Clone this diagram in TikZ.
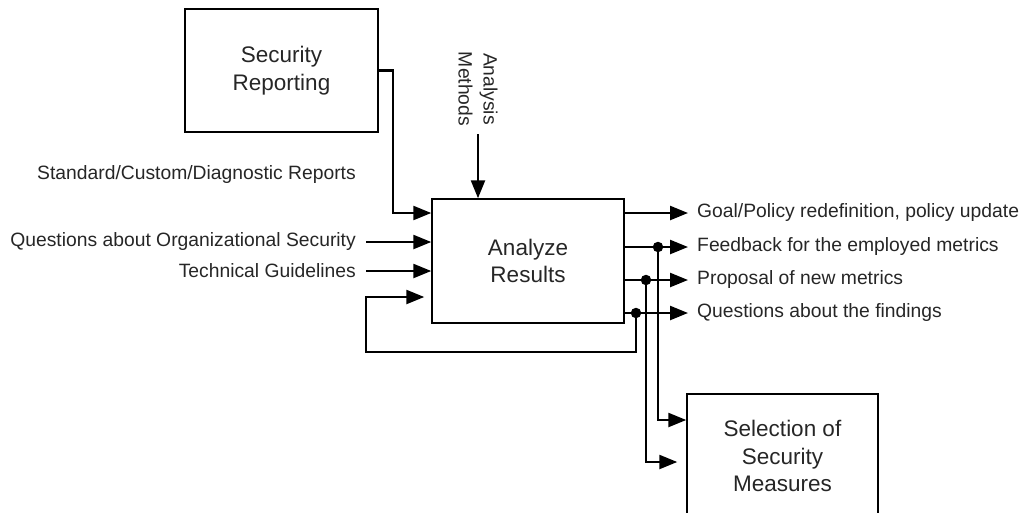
\documentclass[tikz,border=0pt]{standalone}
\usepackage{fontspec}
\setmainfont{Liberation Sans}
\usetikzlibrary{arrows.meta,positioning}

\tikzset{
  box/.style={draw,line width=1.5pt,align=center,inner sep=0pt,
    font=\fontsize{22.5}{27.5}\selectfont,text=black!85},
  lbl/.style={inner sep=0pt,font=\fontsize{19.3}{25}\selectfont,text=black!85},
  flow/.style={line width=2.4pt,-{Triangle[length=18pt,width=14pt]}},
  dot/.style={circle,fill,inner sep=0pt,minimum size=10.5pt}
}

\begin{document}
\begin{tikzpicture}[x=1pt,y=-1pt]

    \useasboundingbox (0,0) rectangle (1027,512);

    %draw boxes
    \node[box,minimum width=193pt,minimum height=123pt] (sr)  at (281.5,70.5) {Security\\Reporting};
    \node[box,minimum width=192pt,minimum height=124pt] (ar)  at (528,261)   {Analyze\\Results};
    \node[box,minimum width=191pt,minimum height=124pt] (ssm) at (782.5,456) {Selection of\\Security\\Measures};

    %draw input labels
    \node[lbl,anchor=east] (std) at (356,175) {Standard/Custom/Diagnostic Reports};
    \node[lbl,anchor=east] (qos) at (356,242) {Questions about Organizational Security};
    \node[lbl,anchor=east] (tg)  at (356,271) {Technical Guidelines};
    \node[lbl,rotate=-90,align=center] (am) at (478,89) {Analysis\\Methods};

    %draw output labels
    \node[lbl,anchor=west] (goal) at (697,213) {Goal/Policy redefinition, policy update};
    \node[lbl,anchor=west] (fb)   at (697,247) {Feedback for the employed metrics};
    \node[lbl,anchor=west] (prop) at (697,280) {Proposal of new metrics};
    \node[lbl,anchor=west] (qf)   at (697,313) {Questions about the findings};

    %branch points
    \node[dot] (d1) at (658,247) {};
    \node[dot] (d2) at (646,280) {};
    \node[dot] (d3) at (636,313) {};
    \coordinate (loop) at (366,352);

    %draw inputs
    \draw[flow] (sr.east) -- ++(14,0) |- (ar.west |- goal);
    \draw[flow,shorten <=10pt] (qos.east) -- (ar.west |- qos);
    \draw[flow,shorten <=10pt] (tg.east) -- (ar.west |- tg);
    \draw[flow,shorten <=8pt] (am.east) -- (ar.north -| am);

    %draw outputs
    \draw[flow,shorten >=9pt] (ar.east |- goal) -- (goal.west);
    \draw[flow,shorten >=9pt] (ar.east |- fb) -- (fb.west);
    \draw[flow,shorten >=9pt] (ar.east |- prop) -- (prop.west);
    \draw[flow,shorten >=9pt] (ar.east |- qf) -- (qf.west);

    %draw feedback loop and branches
    \draw[flow,shorten >=7pt] (d3.center) |- (loop) |- (ar.west |- 0,297);
    \draw[flow] (d1.center) |- (ssm.west |- 0,420);
    \draw[flow,shorten >=9pt] (d2.center) |- (ssm.west |- 0,462);

\end{tikzpicture}
\end{document}
